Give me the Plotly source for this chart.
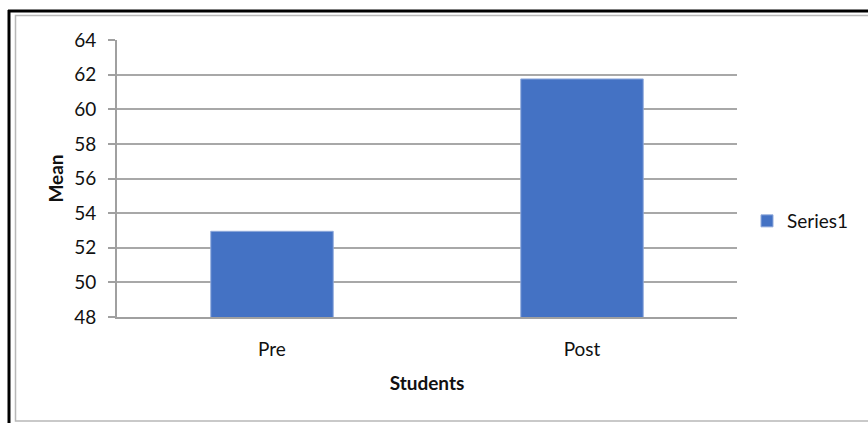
import plotly.graph_objects as go

categories = ["Pre", "Post"]
series1 = [52.95, 61.75]
y_ticks = [48, 50, 52, 54, 56, 58, 60, 62, 64]

W, H = 868, 423
L, R, T, B = 117, 737, 40, 317  # plot-area pixel box

def px(x):
    return (x - L) / (R - L)

def py(y):
    return (B - y) / (B - T)

FONT = "Lato"
fig = go.Figure()
fig.add_trace(go.Bar(
    x=categories, y=series1, name="Series1",
    marker=dict(color="#4472C4", line=dict(color="#8FA9DB", width=1)),
    width=0.395,
))

fig.update_layout(
    width=W, height=H,
    margin=dict(l=L, r=W - R, t=T, b=H - B, pad=0),
    paper_bgcolor="white", plot_bgcolor="white",
    font=dict(family=FONT, size=19, color="#111111"),
    showlegend=True,
    legend=dict(x=px(747), y=py(221), xanchor="left", yanchor="middle",
                font=dict(size=19), itemwidth=30, bgcolor="rgba(0,0,0,0)"),
    xaxis=dict(
        showline=True, linecolor="#a0a0a0", linewidth=2,
        showgrid=False, ticks="", ticklabelstandoff=14,
        title=dict(text="<b>Students</b>", standoff=18, font=dict(size=19)),
    ),
    yaxis=dict(
        range=[48, 64], tickvals=y_ticks, ticktext=[str(v) for v in y_ticks],
        showline=True, linecolor="#a0a0a0", linewidth=2,
        showgrid=True, gridcolor="#a8a8a8", gridwidth=2,
        ticks="outside", ticklen=7, tickcolor="#a0a0a0", tickwidth=2,
        ticklabelstandoff=8, zeroline=False,
        title=dict(text="<b>Mean</b>", standoff=6, font=dict(size=19)),
    ),
    shapes=[
        # outer frame: black double-ish border
        dict(type="line", xref="paper", yref="paper", x0=px(8), x1=px(870), y0=py(11), y1=py(11),
             line=dict(color="black", width=3), layer="above"),
        dict(type="line", xref="paper", yref="paper", x0=px(9), x1=px(9), y0=py(10), y1=py(425),
             line=dict(color="black", width=3), layer="above"),
        dict(type="rect", xref="paper", yref="paper", x0=px(15.5), x1=px(872), y0=py(15.5), y1=py(421),
             line=dict(color="#b8b8b8", width=1.5), layer="above"),
    ],
)

fig.write_html("out.html")
